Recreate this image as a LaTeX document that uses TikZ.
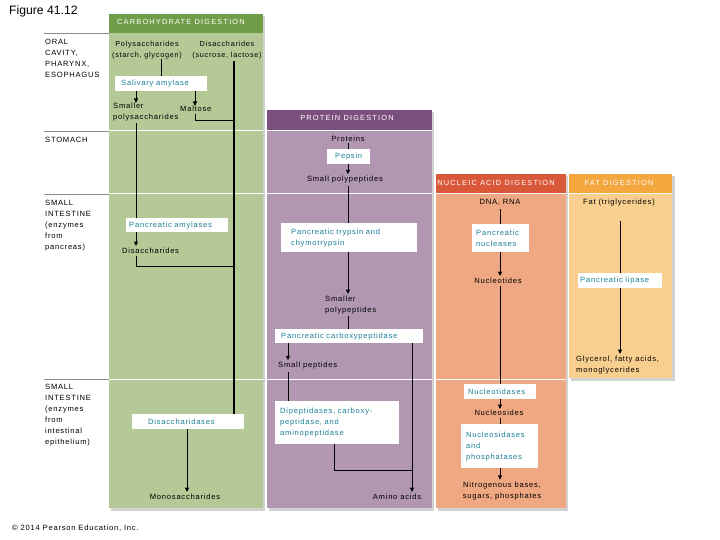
\documentclass[tikz,border=0pt]{standalone}
\usepackage{fontspec}
\setmainfont{Liberation Sans}
\newfontfamily\dfont[LetterSpace=10]{Liberation Sans}
\newfontfamily\hfont[LetterSpace=16]{Liberation Sans}
\usetikzlibrary{arrows.meta}
\definecolor{cgH}{RGB}{112,157,72}
\definecolor{cgB}{RGB}{181,201,150}
\definecolor{cpH}{RGB}{124,80,126}
\definecolor{cpB}{RGB}{177,151,178}
\definecolor{cnH}{RGB}{217,88,58}
\definecolor{cnB}{RGB}{240,168,131}
\definecolor{cfH}{RGB}{243,167,62}
\definecolor{cfB}{RGB}{249,207,143}
\definecolor{enzc}{RGB}{25,128,150}
\definecolor{shd}{RGB}{210,210,210}
\tikzset{
  tx/.style={font=\dfont\fontsize{7.6}{11}\selectfont, inner sep=0pt, align=left},
  txc/.style={tx, align=center},
  hd/.style={font=\hfont\fontsize{7.4}{9}\selectfont, text=white, inner sep=0pt},
  enz/.style={fill=white, text=enzc, font=\dfont\fontsize{7.6}{11}\selectfont, align=left, inner ysep=0pt, anchor=north west},
  ln/.style={line width=1pt},
  thk/.style={line width=1.8pt},
  arr/.style={ln, -{Triangle[length=4.5pt,width=4pt]}},
  wsep/.style={white, line width=1pt},
  gsep/.style={black!45, line width=0.8pt},
}
\begin{document}
\begin{tikzpicture}[x=1pt,y=-1pt]
\useasboundingbox (0,0) rectangle (720,540);
% column shadows
\fill[shd] (111,16) rectangle (265,511);
\fill[shd] (269,112) rectangle (434,511);
\fill[shd] (438,176) rectangle (568,511);
\fill[shd] (571,176) rectangle (675,381);
% columns
\fill[cgB] (109,14) rectangle (263,508);
\fill[cgH] (109,14) rectangle (263,33);
\fill[cpB] (267,110) rectangle (432,508);
\fill[cpH] (267,110) rectangle (432,130);
\fill[cnB] (436,174) rectangle (566,508);
\fill[cnH] (436,174) rectangle (566,193);
\fill[cfB] (569,174) rectangle (672,378);
\fill[cfH] (569,174) rectangle (672,193);
% row separators
\draw[gsep] (44,33) -- (109,33);
\draw[gsep] (44,131) -- (109,131);
\draw[gsep] (44,194) -- (109,194);
\draw[gsep] (44,379) -- (109,379);
\draw[wsep] (109,131) -- (263,131) (267,131) -- (432,131);
\draw[wsep] (109,194) -- (263,194) (267,194) -- (432,194) (436,194) -- (566,194) (569,194) -- (672,194);
\draw[wsep] (109,379) -- (263,379) (267,379) -- (432,379) (436,379) -- (566,379);
% titles
\node[inner sep=0pt, anchor=base west, font=\fontsize{12.2}{13}\selectfont] (fig) at (9,15) {Figure 41.12};
\node[tx, anchor=west, font=\dfont\fontsize{7.6}{9}\selectfont] (copy) at (12,528) {© 2014 Pearson Education, Inc.};
% row labels
\node[tx, anchor=north west] (rowA) at (45,39) {ORAL\\CAVITY,\\PHARYNX,\\ESOPHAGUS};
\node[tx, anchor=north west] (rowB) at (45,137) {STOMACH};
\node[tx, anchor=north west] (rowC) at (45,200) {SMALL\\INTESTINE\\(enzymes\\from\\pancreas)};
\node[tx, anchor=north west] (rowD) at (45,384) {SMALL\\INTESTINE\\(enzymes\\from\\intestinal\\epithelium)};
% headers
\node[hd] (hC) at (181,22) {CARBOHYDRATE DIGESTION};
\node[hd] (hP) at (347,118) {PROTEIN DIGESTION};
\node[hd] (hN) at (496,183) {NUCLEIC ACID DIGESTION};
\node[hd] (hF) at (619,183) {FAT DIGESTION};
% x positions
\coordinate (x136) at (136,0);
\coordinate (x161) at (161,0);
\coordinate (x187) at (187,0);
\coordinate (x195) at (195,0);
\coordinate (x234) at (234,0);
\coordinate (x288) at (288,0);
\coordinate (x334) at (334,0);
\coordinate (x348) at (348,0);
\coordinate (x412) at (412,0);
\coordinate (x500) at (500,0);
\coordinate (x620) at (620,0);
% ---------- carbohydrate
\node[txc, font=\dfont\fontsize{7.3}{11}\selectfont] (poly) at (147,50) {Polysaccharides\\(starch, glycogen)};
\node[txc, font=\dfont\fontsize{7.3}{11}\selectfont] (disa) at (227,50) {Disaccharides\\(sucrose, lactose)};
\node[enz, minimum height=15pt, text width=80pt, inner xsep=6pt] (sal) at (115,76) {Salivary amylase};
\node[tx, anchor=north west] (smpo) at (113,103) {Smaller\\polysaccharides};
\node[tx, anchor=north west] (malt) at (180,106) {Maltose};
\node[enz, minimum height=14pt, text width=96pt, inner xsep=3pt] (pam) at (126,218) {Pancreatic amylases};
\node[tx, anchor=west] (dis2) at (122,251) {Disaccharides};
\node[enz, minimum height=15pt, text width=80pt, inner xsep=16pt] (dac) at (132,414) {Disaccharidases};
\node[txc] (mono) at (185,497) {Monosaccharides};
\coordinate (mcorner) at (195,121);
\coordinate (dcorner) at (136,266);
\draw[ln] (poly.south -| x161) -- (sal.north -| x161);
\draw[arr] (sal.south -| x136) -- (smpo.north -| x136);
\draw[arr] (sal.south -| x195) -- (malt.north -| x195);
\draw[ln] ([yshift=-2pt]malt.south -| x195) -- (mcorner) -- (mcorner -| x234);
\draw[ln] ([yshift=-2pt]smpo.south -| x136) -- (pam.north -| x136);
\draw[arr] (pam.south -| x136) -- ([yshift=2pt]dis2.north -| x136);
\draw[ln] ([yshift=-2pt]dis2.south -| x136) -- (dcorner) -- (dcorner -| x234);
\draw[thk] ([yshift=-2pt]disa.south -| x234) -- (dac.north -| x234);
\draw[arr] (dac.south -| x187) -- ([yshift=2pt]mono.north -| x187);
% ---------- protein
\node[txc] (prot) at (348,139) {Proteins};
\node[enz, minimum height=15pt, text width=43pt, inner xsep=0pt, align=center] (pep) at (327,149) {Pepsin};
\node[txc] (spp) at (345,180) {Small polypeptides};
\node[enz, minimum height=29pt, text width=116pt, inner xsep=10pt] (tryp) at (281,223) {Pancreatic trypsin and\\chymotrypsin};
\node[tx, anchor=north west] (smpp) at (325,296) {Smaller\\polypeptides};
\node[enz, minimum height=14pt, text width=136pt, inner xsep=6pt] (cpp) at (275,329) {Pancreatic carboxypeptidase};
\node[tx, anchor=west] (spep) at (278,366) {Small peptides};
\node[enz, minimum height=43pt, text width=114pt, inner xsep=5pt] (dip) at (275,401) {Dipeptidases, carboxy-\\peptidase, and\\aminopeptidase};
\node[txc] (amino) at (397,497) {Amino acids};
\coordinate (acorner) at (334,470);
\draw[ln] ([yshift=-1pt]prot.south -| x348) -- (pep.north -| x348);
\draw[arr] (pep.south -| x348) -- ([yshift=2pt]spp.north -| x348);
\draw[ln] ([yshift=-2pt]spp.south -| x348) -- (tryp.north -| x348);
\draw[arr] (tryp.south -| x348) -- ([yshift=2pt]smpp.north -| x348);
\draw[ln] ([yshift=-2pt]smpp.south -| x348) -- (cpp.north -| x348);
\draw[arr] (cpp.south -| x288) -- ([yshift=2pt]spep.north -| x288);
\draw[ln] ([yshift=-2pt]spep.south -| x288) -- (dip.north -| x288);
\draw[arr] (cpp.south -| x412) -- ([yshift=2pt]amino.north -| x412);
\draw[ln] (dip.south -| x334) -- (acorner) -- (acorner -| x412);
% ---------- nucleic acid
\node[txc] (dna) at (500,202) {DNA, RNA};
\node[enz, minimum height=28pt, text width=49pt, inner xsep=4pt] (nuc) at (472,224) {Pancreatic\\nucleases};
\node[txc] (ntd) at (498,281) {Nucleotides};
\node[enz, minimum height=15pt, text width=64pt, inner xsep=4pt] (ntda) at (464,384) {Nucleotidases};
\node[txc] (nsd) at (499,413) {Nucleosides};
\node[enz, minimum height=44pt, text width=67pt, inner xsep=5pt] (nsda) at (461,424) {Nucleosidases\\and\\phosphatases};
\node[txc] (nit) at (502,491) {Nitrogenous bases,\\sugars, phosphates};
\draw[ln] ([yshift=-4pt]dna.south -| x500) -- (nuc.north -| x500);
\draw[arr] (nuc.south -| x500) -- ([yshift=2pt]ntd.north -| x500);
\draw[ln] ([yshift=-2pt]ntd.south -| x500) -- (ntda.north -| x500);
\draw[arr] (ntda.south -| x500) -- ([yshift=1pt]nsd.north -| x500);
\draw[ln] ([yshift=-2pt]nsd.south -| x500) -- (nsda.north -| x500);
\draw[arr] (nsda.south -| x500) -- ([yshift=2pt]nit.north -| x500);
% ---------- fat
\node[txc] (fat) at (619,203) {Fat (triglycerides)};
\node[enz, minimum height=15pt, text width=80pt, inner xsep=2pt] (lip) at (578,273) {Pancreatic lipase};
\node[tx, anchor=north west] (gly) at (576,356) {Glycerol, fatty acids,\\monoglycerides};
\coordinate (fstart) at (620,221);
\draw[ln] (fstart) -- (lip.north -| x620);
\draw[arr] (lip.south -| x620) -- ([yshift=2pt]gly.north -| x620);
\end{tikzpicture}
\end{document}
